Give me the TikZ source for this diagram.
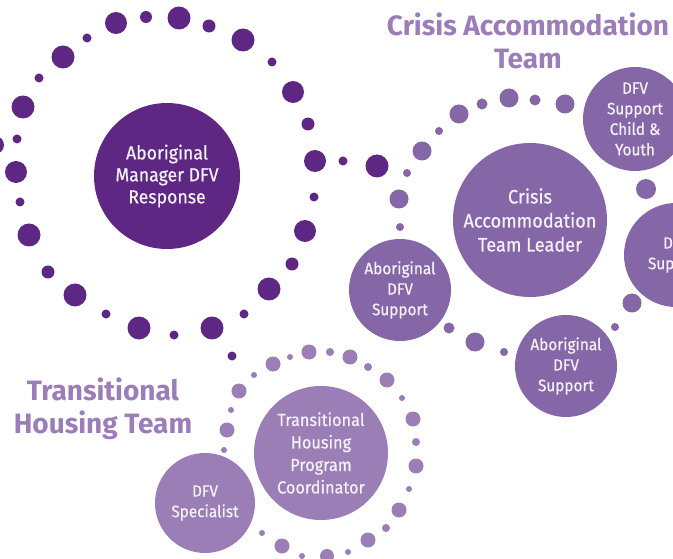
\documentclass[tikz,border=0pt]{standalone}
\usepackage{fontspec}
\setmainfont{Fira Sans}[FakeStretch=0.93, FakeBold=0.6]
\newfontfamily\headfont{Fira Sans}
\definecolor{darkp}{RGB}{93,39,131}
\definecolor{crisisp}{RGB}{133,102,166}
\definecolor{transp}{RGB}{154,126,181}
\definecolor{headp}{RGB}{155,125,185}
\definecolor{ntext}{RGB}{246,240,250}
\tikzset{
  pnode/.style={circle, inner sep=0pt, text=ntext, align=center},
  headlbl/.style={text=headp, align=center, font=\headfont\bfseries\fontsize{28}{33}\selectfont},
  bigtxt/.style={font=\fontsize{19}{22}\selectfont},
  midtxt/.style={font=\fontsize{17.5}{22.5}\selectfont},
  smalltxt/.style={font=\fontsize{16.5}{20.5}\selectfont},
}
\begin{document}
\begin{tikzpicture}[x=1pt,y=-1pt]
\useasboundingbox (0,0) rectangle (673,559);
\clip (0,0) rectangle (673,559);
% dark ring dots
\foreach \x/\y/\r in {116/23/11,146/17/6,179/18/11.5,209/26/6.5,243/40/11.5,272/62/4.5,
  293/92/11,308/124/6.5,315/161/11,314/197/4.5,305/231/11,292/264/6.5,269/289/11.5,
  244/314/4.5,212/328/11.5,174/335/4.5,139/328/11.5,106/314/4.5,75/295/11.5,48/272/6.5,
  29/235/11.5,20/202/4.5,16/172/11,17/139/4.5,-5/145/9,23/107/11.5,39/78/4.5,63/57/11.5,
  87/38/4.5,343/161/4.5,377/166/11.5,232/356/4.5}
  \fill[darkp] (\x,\y) circle (\r);
% crisis dots
\foreach \x/\y/\r in {407/173/4,399/199/9.5,400/227/4,422/151/9.5,439/131/4,459/114/9.5,
  482/104/5.5,509/98/9.5,535/100/5.5,565/104/9.5,646/189/10,632/303/9.5,615/327/4,
  449/328/5.5,475/342/9.5,504/352/4}
  \fill[crisisp] (\x,\y) circle (\r);
% transitional dots
\foreach \x/\y/\r in {273/364/7.5,290/357/3,309/352/7.5,330/352/4,350/357/7.5,368/367/4,
  387/380/7.5,402/398/3,413/419/7.5,416/442/4,416/466/7.5,409/489/3,399/510/7.5,386/528/4,
  368/540/7.5,348/552/3,327/556/7,302/556/3,282/546/7.5,262/533/3,254/375/3,239/391/7.5,
  231/410/3,227/430/7.5,224/450/3}
  \fill[transp] (\x,\y) circle (\r);
% nodes
\node[pnode, fill=darkp, minimum size=146pt, bigtxt] (mgr) at (167,176) {Aboriginal\\Manager DFV\\Response};
\node[pnode, fill=crisisp, minimum size=154pt, font=\fontsize{19.5}{24}\selectfont] (lead) at (530,220) {Crisis\\Accommodation\\Team Leader};
\node[pnode, fill=crisisp, minimum size=104pt, smalltxt] (child) at (635,119) {DFV\\Support\\Child \&\\Youth};
\node[pnode, fill=crisisp, minimum size=104pt, smalltxt] (dfvs) at (676,255) {DFV\\Support};
\node[pnode, fill=crisisp, minimum size=102pt, smalltxt] (abl) at (400,290) {Aboriginal\\DFV\\Support};
\node[pnode, fill=crisisp, minimum size=102pt, smalltxt] (abr) at (566,366) {Aboriginal\\DFV\\Support};
\node[pnode, fill=transp, minimum size=134pt, midtxt] (thpc) at (321,453) {Transitional\\Housing\\Program\\Coordinator};
\node[pnode, fill=transp, minimum size=100pt, smalltxt] (spec) at (205,503) {DFV\\Specialist};
% headings
\node[headlbl] (crisisT) at (528,41) {Crisis Accommodation\\Team};
\node[headlbl] (transT) at (103,409) {Transitional\\Housing Team};
\end{tikzpicture}
\end{document}
